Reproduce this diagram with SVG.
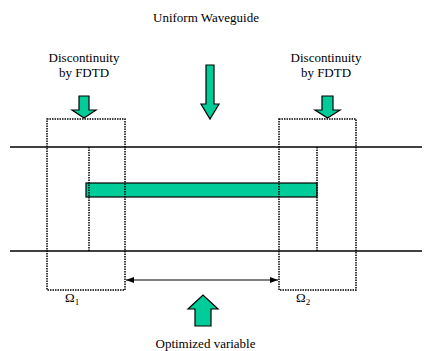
<svg xmlns="http://www.w3.org/2000/svg" width="432" height="351" viewBox="0 0 432 351">
<style>
text{font-family:'Liberation Serif','DejaVu Serif','Times New Roman',serif;font-size:13px;fill:#000}
.mid{text-anchor:middle}
.wg{stroke:#000;stroke-width:1.5;fill:none}
.dot{stroke:#000;stroke-width:1.5;stroke-dasharray:1.5 1;fill:none}
.arr{fill:#00CC99;stroke:#000;stroke-width:1.2;stroke-linejoin:miter}
</style>
<defs>
<marker id="ah" viewBox="0 0 8 6" refX="8" refY="3" markerWidth="8" markerHeight="6" markerUnits="userSpaceOnUse" orient="auto-start-reverse">
<path d="M0,0 L8,3 L0,6 Z" fill="#000"/>
</marker>
</defs>
<rect width="432" height="351" fill="#fff"/>
<g id="waveguide">
<line class="wg" x1="10" y1="147" x2="422" y2="147"/>
<line class="wg" x1="10" y1="251" x2="422" y2="251"/>
<rect x="86" y="183" width="231" height="14" fill="#00CC99" stroke="#000" stroke-width="1.2"/>
</g>
<g id="omega1">
<rect class="dot" x="47" y="119" width="78" height="171"/>
<line class="dot" x1="89" y1="147" x2="89" y2="251"/>
<text x="65" y="302" font-family="Liberation Serif, serif">Ω<tspan font-size="9" dy="3">1</tspan></text>
</g>
<g id="omega2">
<rect class="dot" x="279" y="119" width="77" height="171"/>
<line class="dot" x1="317" y1="147" x2="317" y2="251"/>
<text x="296" y="302" font-family="Liberation Serif, serif">Ω<tspan font-size="9" dy="3">2</tspan></text>
</g>
<g id="uniform">
<text class="mid" x="206" y="22" font-family="Liberation Serif, serif">Uniform Waveguide</text>
<path class="arr" d="M206,65 H214 V104 H219 L210,119 L201,104 H206 Z"/>
</g>
<g id="disc-left">
<text class="mid" x="84" y="62" font-family="Liberation Serif, serif">Discontinuity</text>
<text class="mid" x="84" y="77" font-family="Liberation Serif, serif">by FDTD</text>
<path class="arr" d="M79,96 H89 V110 H96 L84,118 L72,110 H79 Z"/>
</g>
<g id="disc-right">
<text class="mid" x="326" y="62" font-family="Liberation Serif, serif">Discontinuity</text>
<text class="mid" x="326" y="77" font-family="Liberation Serif, serif">by FDTD</text>
<path class="arr" d="M322,96 H333 V110 H340 L327.5,118 L315,110 H322 Z"/>
</g>
<g id="optimized">
<path class="arr" d="M195,326 H211 V309 H218 L203,295 L188,309 H195 Z"/>
<text class="mid" x="205.5" y="348" font-family="Liberation Serif, serif">Optimized variable</text>
</g>
<g id="connectors">
<line x1="126" y1="280" x2="278" y2="280" stroke="#000" stroke-width="1.2" marker-start="url(#ah)" marker-end="url(#ah)"/>
</g>
</svg>
